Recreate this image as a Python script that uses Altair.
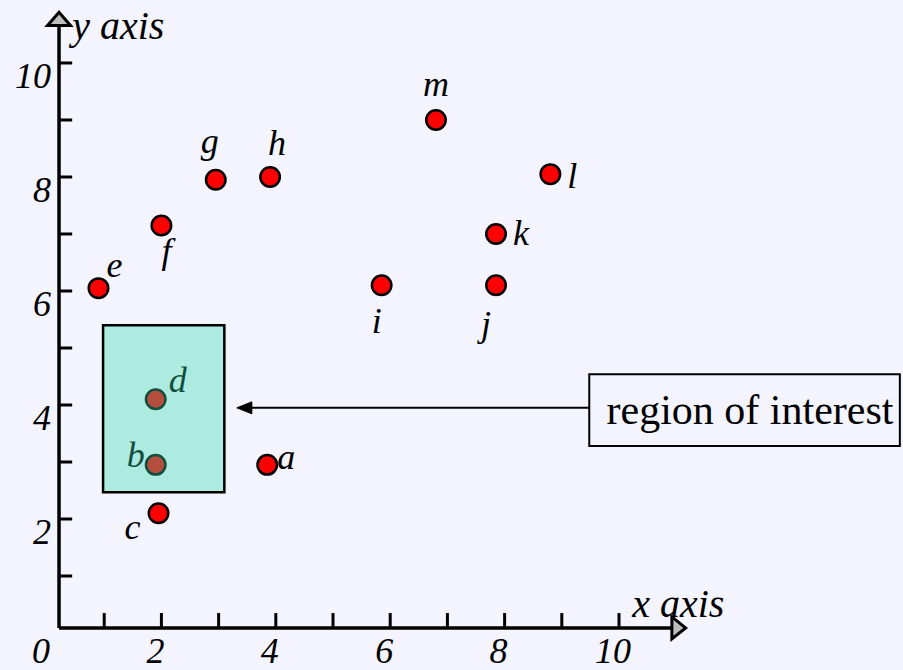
import altair as alt
import pandas as pd

# ---- point set -------------------------------------------------------------
names = ["a", "b", "c", "d", "e", "f", "g", "h", "i", "j", "k", "l", "m"]
xs = [3.85, 1.9, 1.95, 1.9, 0.9, 2.0, 2.95, 3.9, 5.85, 7.85, 7.85, 8.8, 6.8]
ys = [2.95, 2.95, 2.1, 4.1, 6.05, 7.15, 7.95, 8.0, 6.1, 6.1, 7.0, 8.05, 9.0]

# ---- axes --------------------------------------------------------------------
tick_values = [1, 2, 3, 4, 5, 6, 7, 8, 9, 10]
x_label_values = [0, 2, 4, 6, 8, 10]
y_label_values = [2, 4, 6, 8, 10]
axis_origin = [0.21, 0.09]          # where the two axis lines cross
axis_ends = [10.96, 10.67]          # x axis end, y axis end (arrow bases)
arrow_centers = [11.04, 10.77]      # arrowhead centres along each axis
tick_len = [0.23, 0.26]             # y-tick length (x units), x-tick length (y units)

# ---- query rectangle and its callout ------------------------------------------
roi_x = [0.98, 3.1]
roi_y = [2.47, 5.4]
callout_box_x = [9.48, 14.91]
callout_box_y = [3.28, 4.54]
callout_text = "region of interest"
callout_text_pos = [12.29, 3.667]
callout_arrow_y = 3.95
callout_arrow_head_x = 3.45

axis_titles = ["x axis", "y axis"]
axis_title_pos = [[10.23, 0.28], [0.44, 10.42]]

# label placement around each point: (align, dx, dy) in pixels
placements = {
    "a": ("left", 10, 4),
    "b": ("right", -11, 2),
    "c": ("right", -18, 26),
    "d": ("left", 13, -7),
    "e": ("left", 8, -11),
    "f": ("center", 5, 38),
    "g": ("center", -6, -27),
    "h": ("center", 7, -22),
    "i": ("center", -5, 48),
    "j": ("center", -10, 51),
    "k": ("left", 17, 11),
    "l": ("left", 17, 14),
    "m": ("center", 0, -24),
}

FONT = "Liberation Serif"
BG = "#F4F4FF"
W, H = 903, 670
XS = alt.Scale(domain=[-0.822, 14.965], nice=False, zero=False)
YS = alt.Scale(domain=[-0.649, 11.105], nice=False, zero=False)


def X(field):
    return alt.X(field, type="quantitative", scale=XS, axis=None)


def Y(field):
    return alt.Y(field, type="quantitative", scale=YS, axis=None)


ox, oy = axis_origin
pts = pd.DataFrame({"name": names, "x": xs, "y": ys})

# axis lines
x_axis = alt.Chart(pd.DataFrame({"x": [ox], "x2": [axis_ends[0]], "y": [oy]})).mark_rule(
    color="black", strokeWidth=3.5
).encode(x=X("x"), x2="x2", y=Y("y"))
y_axis = alt.Chart(pd.DataFrame({"x": [ox], "y": [oy], "y2": [axis_ends[1]]})).mark_rule(
    color="black", strokeWidth=3.5
).encode(x=X("x"), y=Y("y"), y2="y2")

# inward-pointing ticks
xt = pd.DataFrame({"x": tick_values, "y": oy, "y2": oy + tick_len[1]})
x_ticks = alt.Chart(xt).mark_rule(color="black", strokeWidth=3).encode(
    x=X("x"), y=Y("y"), y2="y2"
)
yt = pd.DataFrame({"y": tick_values, "x": ox, "x2": ox + tick_len[0]})
y_ticks = alt.Chart(yt).mark_rule(color="black", strokeWidth=3).encode(
    x=X("x"), x2="x2", y=Y("y")
)

# tick labels
xl = pd.DataFrame({"x": x_label_values, "y": oy, "t": [str(v) for v in x_label_values]})
x_labels = alt.Chart(xl).mark_text(
    font=FONT, fontStyle="italic", fontSize=36, align="center", baseline="alphabetic",
    dx=-6, dy=35, color="black"
).encode(x=X("x"), y=Y("y"), text="t:N")
yl = pd.DataFrame({"y": y_label_values, "x": ox, "t": [str(v) for v in y_label_values]})
y_labels = alt.Chart(yl).mark_text(
    font=FONT, fontStyle="italic", fontSize=36, align="right", baseline="alphabetic",
    dx=-8, dy=25, color="black"
).encode(x=X("x"), y=Y("y"), text="t:N")

# arrowheads at the axis ends
x_head = alt.Chart(pd.DataFrame({"x": [arrow_centers[0]], "y": [oy]})).mark_point(
    shape="M-0.6,-1L0.65,0L-0.6,1Z", size=484, filled=True, fill="#BDBDBD",
    stroke="black", strokeWidth=3, opacity=1, strokeJoin="miter"
).encode(x=X("x"), y=Y("y"))
y_head = alt.Chart(pd.DataFrame({"x": [ox], "y": [arrow_centers[1]]})).mark_point(
    shape="M-1,0.55L0,-0.6L1,0.55Z", size=529, filled=True, fill="#BDBDBD",
    stroke="black", strokeWidth=3, opacity=1, strokeJoin="miter"
).encode(x=X("x"), y=Y("y"))

# axis titles
titles = pd.DataFrame({
    "t": axis_titles,
    "x": [p[0] for p in axis_title_pos],
    "y": [p[1] for p in axis_title_pos],
})
title_text = alt.Chart(titles).mark_text(
    font=FONT, fontStyle="italic", fontSize=40, align="left", baseline="alphabetic",
    color="black"
).encode(x=X("x"), y=Y("y"), text="t:N")

# points
points = alt.Chart(pts).mark_point(
    shape="circle", size=380, filled=True, fill="#FF0000", stroke="black",
    strokeWidth=2.5, opacity=1
).encode(x=X("x"), y=Y("y"))

# point labels
label_layers = []
for n in names:
    align, dx, dy = placements[n]
    label_layers.append(
        alt.Chart(pts).transform_filter(alt.datum.name == n).mark_text(
            font=FONT, fontStyle="italic", fontSize=36, align=align,
            baseline="alphabetic", dx=dx, dy=dy, color="black"
        ).encode(x=X("x"), y=Y("y"), text="name:N")
    )

# shaded region of interest
roi = alt.Chart(pd.DataFrame({"x": [roi_x[0]], "x2": [roi_x[1]],
                              "y": [roi_y[0]], "y2": [roi_y[1]]})).mark_rect(
    fill="#2ED8A8", fillOpacity=0.36, stroke="black", strokeWidth=2.5
).encode(x=X("x"), x2="x2", y=Y("y"), y2="y2")

# callout box, text and arrow
box = alt.Chart(pd.DataFrame({"x": [callout_box_x[0]], "x2": [callout_box_x[1]],
                              "y": [callout_box_y[0]], "y2": [callout_box_y[1]]})).mark_rect(
    fill=BG, stroke="black", strokeWidth=2
).encode(x=X("x"), x2="x2", y=Y("y"), y2="y2")
box_text = alt.Chart(pd.DataFrame({"x": [callout_text_pos[0]], "y": [callout_text_pos[1]],
                                   "t": [callout_text]})).mark_text(
    font=FONT, fontSize=42, align="center", baseline="alphabetic", color="black"
).encode(x=X("x"), y=Y("y"), text="t:N")
arrow_line = alt.Chart(pd.DataFrame({"x": [callout_arrow_head_x], "x2": [callout_box_x[0]],
                                     "y": [callout_arrow_y]})).mark_rule(
    color="black", strokeWidth=2
).encode(x=X("x"), x2="x2", y=Y("y"))
arrow_head = alt.Chart(pd.DataFrame({"x": [callout_arrow_head_x], "y": [callout_arrow_y]})).mark_point(
    shape="M-1,0L1,-0.8L1,0.8Z", size=225, filled=True, fill="black",
    stroke="black", strokeWidth=1, opacity=1
).encode(x=X("x"), y=Y("y"))

chart = alt.layer(
    x_axis, y_axis, x_ticks, y_ticks, x_labels, y_labels, title_text,
    points, *label_layers, roi,
    arrow_line, arrow_head, box, box_text,
    x_head, y_head,
).properties(
    width=W, height=H, background=BG, padding=0,
    autosize=alt.AutoSizeParams(type="none"),
).configure_view(stroke=None)

chart.save("out.html", embed_options={"renderer": "svg", "actions": False})
